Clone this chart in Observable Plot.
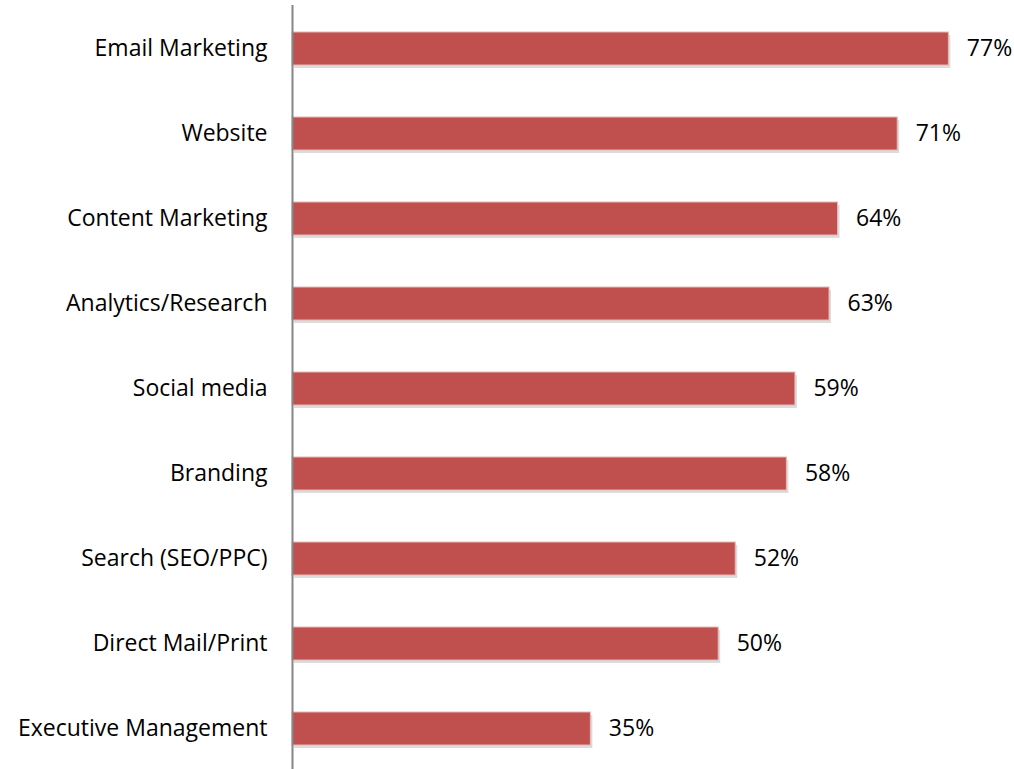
<!DOCTYPE html>
<html>
<head>
<meta charset="utf-8">
<script src="https://cdn.jsdelivr.net/npm/d3@7"></script>
<script src="https://cdn.jsdelivr.net/npm/@observablehq/plot@0.6"></script>
<style>
  html, body { margin: 0; padding: 0; background: #fff; }
  #chart svg { display: block; }
</style>
</head>
<body>
<div id="chart"></div>
<script>
const categories = ["Email Marketing", "Website", "Content Marketing", "Analytics/Research", "Social media", "Branding", "Search (SEO/PPC)", "Direct Mail/Print", "Executive Management"];
const values = [77, 71, 64, 63, 59, 58, 52, 50, 35];
const data = categories.map((c, i) => ({category: c, value: values[i]}));

const font = "'Open Sans', Lato, sans-serif";
const chart = Plot.plot({
  width: 1014,
  height: 769,
  marginLeft: 292,
  marginRight: 0,
  marginTop: 5,
  marginBottom: 0,
  style: {fontFamily: font, fontSize: "23px", color: "#000", background: "#fff"},
  x: {domain: [0, 84.7], axis: null},
  y: {domain: categories, range: [4.85, 772.6], paddingInner: 0.613, paddingOuter: 0.3065, label: null, tickSize: 0, tickPadding: 25},
  marks: [
    Plot.barX(data, {x: "value", y: "category", fill: "#8c8c8c", fillOpacity: 0.3, dx: 2, dy: 3}),
    Plot.barX(data, {x: "value", y: "category", fill: "#c0504d", stroke: "#e6b9b8", strokeWidth: 1}),
    Plot.text(data, {x: "value", y: "category", text: d => d.value + "%", textAnchor: "start", dx: 18, fill: "#000", fontSize: 23}),
    Plot.ruleX([0], {stroke: "#868686", strokeWidth: 2})
  ]
});
document.getElementById("chart").appendChild(chart);
</script>
</body>
</html>
